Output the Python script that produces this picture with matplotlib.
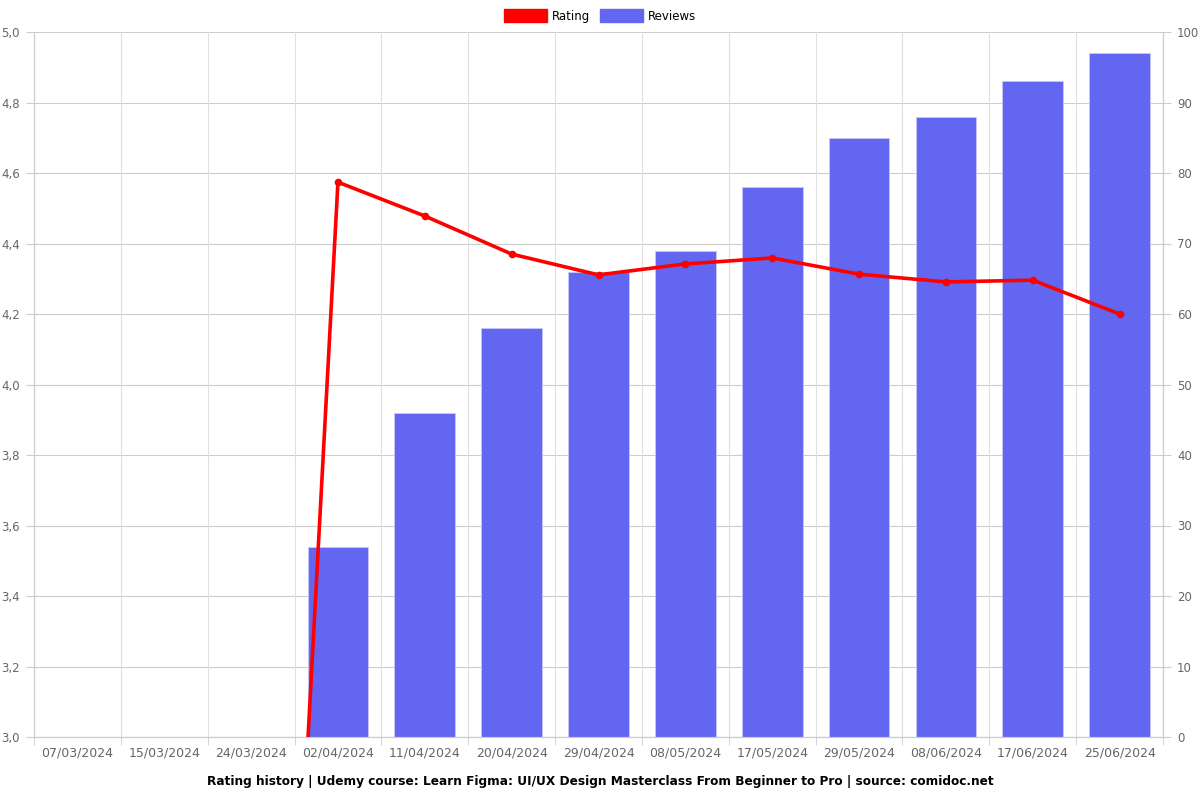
import numpy as np
import matplotlib.pyplot as plt
from matplotlib.patches import Patch
from matplotlib.ticker import FuncFormatter, FixedLocator

dates = ['07/03/2024', '15/03/2024', '24/03/2024', '02/04/2024', '11/04/2024',
         '20/04/2024', '29/04/2024', '08/05/2024', '17/05/2024', '29/05/2024',
         '08/06/2024', '17/06/2024', '25/06/2024']
reviews = [0, 0, 0, 27, 46, 58, 66, 69, 78, 85, 88, 93, 97]
rating = [0, 0, 0, 4.574, 4.478, 4.37, 4.311, 4.342, 4.359, 4.313, 4.291, 4.296, 4.2]

bar_col = '#6366f1'
line_col = '#ff0000'
tick_col = '#666666'

fig = plt.figure(figsize=(12, 8), dpi=100)
ax = fig.add_axes([0.0283, 0.07875, 0.9409, 0.88125])
ax2 = ax.twinx()

x = np.arange(len(dates))

# bars on right axis
ax2.bar(x, reviews, width=0.7, color=bar_col, edgecolor='#c7c8fa', linewidth=0.6, zorder=2)
ax2.set_ylim(0, 100)
ax2.set_yticks(np.arange(0, 101, 10))

# line on left axis, drawn above bars
ax.set_zorder(ax2.get_zorder() + 1)
ax.patch.set_visible(False)
ax.plot(x, rating, color=line_col, lw=2.6, marker='o', ms=4.5, zorder=3)
ax.set_ylim(3.0, 5.0)
ax.set_yticks(np.arange(3.0, 5.01, 0.2))
ax.yaxis.set_major_formatter(FuncFormatter(lambda v, p: f'{v:.1f}'.replace('.', ',')))

ax.set_xlim(-0.5, len(dates) - 0.5)
ax.set_xticks(x)
ax.set_xticklabels(dates)
ax.xaxis.set_minor_locator(FixedLocator(np.arange(-0.5, len(dates), 1.0)))
ax.tick_params(axis='x', which='major', length=0, pad=7, labelsize=9, labelcolor=tick_col)
ax.tick_params(axis='x', which='minor', length=6, color='#cccccc')
ax.tick_params(axis='y', length=6, color='#cccccc', labelsize=8.5, labelcolor=tick_col, pad=4)
ax2.tick_params(axis='y', length=6, color='#cccccc', labelsize=8.5, labelcolor=tick_col, pad=4)

# grid
ax2.grid(axis='y', color='#cccccc', lw=0.8, zorder=0)
ax2.set_axisbelow(True)
ax.grid(axis='x', which='minor', color='#e0e0e0', lw=0.8)
ax.grid(axis='x', which='major', visible=False)

for a in (ax, ax2):
    for s in a.spines.values():
        s.set_color('#cccccc')
        s.set_linewidth(0.8)
    a.spines['top'].set_visible(False)

handles = [Patch(color=line_col, label='Rating'), Patch(color=bar_col, label='Reviews')]
fig.legend(handles=handles, loc='center', bbox_to_anchor=(0.5, 0.98), ncol=2,
           frameon=False, fontsize=8.5, handlelength=3.6, handleheight=1.2,
           columnspacing=0.9, handletextpad=0.4)

fig.text(0.5, 0.0225, 'Rating history | Udemy course: Learn Figma: UI/UX Design Masterclass From Beginner to Pro | source: comidoc.net',
         ha='center', va='center', fontsize=8.7, fontweight='bold')

fig.savefig('out.png', dpi=100)
